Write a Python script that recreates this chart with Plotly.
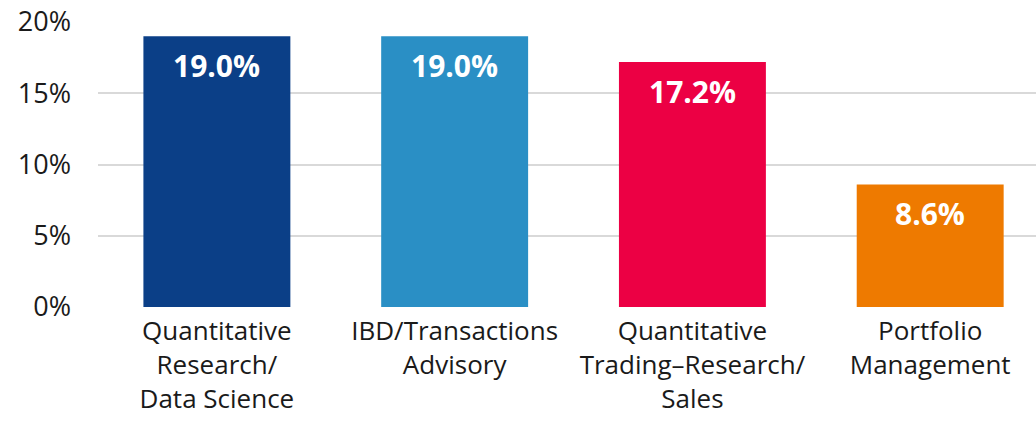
import plotly.graph_objects as go

categories = ["Quantitative<br>Research/<br>Data Science",
              "IBD/Transactions<br>Advisory",
              "Quantitative<br>Trading\u2013Research/<br>Sales",
              "Portfolio<br>Management"]
values = [19.0, 19.0, 17.2, 8.6]
colors = ["#0b3f87", "#2a8fc5", "#ec0044", "#ee7a00"]
y_ticks = [0, 5, 10, 15, 20]
y_tick_labels = ["0%", "5%", "10%", "15%", "20%"]

FONT = "'Open Sans', Lato, sans-serif"
xs = list(range(len(categories)))

fig = go.Figure()
fig.add_trace(go.Bar(x=xs, y=values, marker=dict(color=colors, line=dict(width=0)),
                     width=0.618, hoverinfo="skip"))

for x, v in zip(xs, values):
    fig.add_annotation(x=x, y=v, yanchor="top", yshift=-7, showarrow=False,
                       text="<b>%.1f%%</b>" % v,
                       font=dict(family=FONT, size=30, color="white"))

fig.update_layout(
    width=1036, height=421,
    margin=dict(l=98, r=0, t=22, b=114),
    plot_bgcolor="white", paper_bgcolor="white",
    showlegend=False,
    font=dict(family=FONT, size=26, color="#1a1a1a"),
)
fig.update_xaxes(range=[-0.5, 3.445], tickvals=xs, ticktext=categories,
                 showgrid=False, zeroline=False, showline=False, ticks="",
                 ticklabelstandoff=6,
                 tickfont=dict(family=FONT, size=26, color="#1a1a1a"), tickangle=0)
fig.update_yaxes(range=[0, 20], tickvals=y_ticks, ticktext=y_tick_labels,
                 showgrid=True, gridcolor="#d9d9d9", gridwidth=2,
                 zeroline=False, showline=False, ticks="",
                 ticklabelstandoff=26,
                 tickfont=dict(family=FONT, size=27, color="#1a1a1a"))

fig.write_html("out.html")
